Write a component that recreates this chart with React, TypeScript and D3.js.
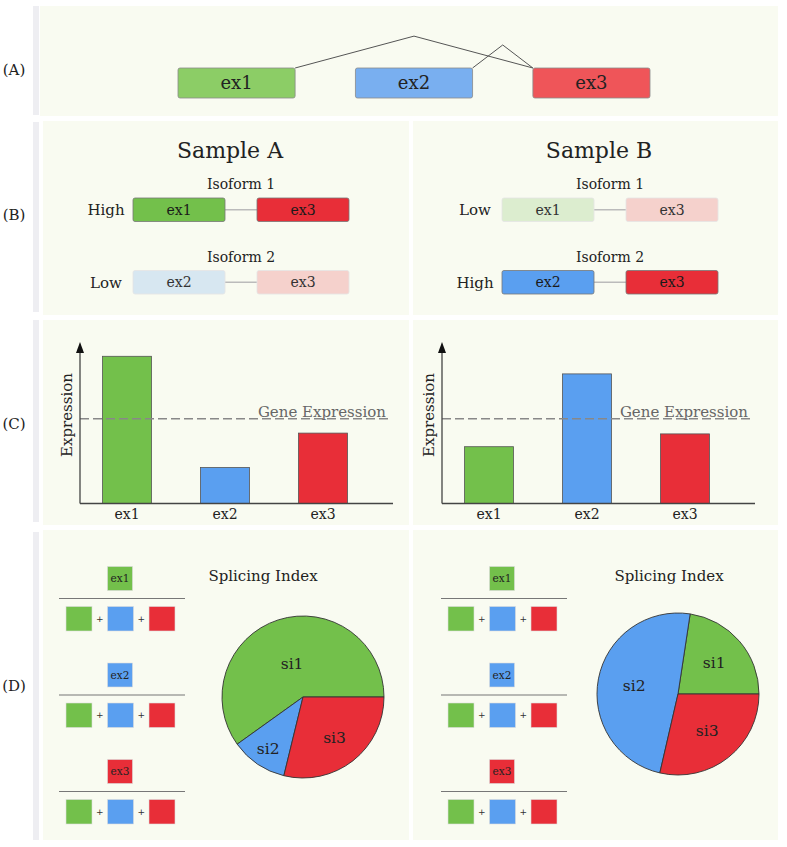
import React from 'react';
import * as d3 from 'd3';

const EXONS = ['ex1', 'ex2', 'ex3'];
const EXON_COLORS = ['#73c04b', '#5a9ff0', '#e82e38'];
const EXON_COLORS_A = ['#8ccd66', '#79aff0', '#ef5559'];
const EXON_FADED = ['#dcedcf', '#d7e7f1', '#f5d1cc'];
const JUNCTIONS = [['ex1', 'ex3'], ['ex2', 'ex3']];
const SAMPLES = ['Sample A', 'Sample B'];
const ISOFORM_NAMES = ['Isoform 1', 'Isoform 2'];
const ISOFORM_EXONS = [['ex1', 'ex3'], ['ex2', 'ex3']];
const ISOFORM_LEVELS_A = ['High', 'Low'];
const ISOFORM_LEVELS_B = ['Low', 'High'];
const EXPR_A = [9.2, 2.25, 4.4];
const EXPR_B = [3.55, 8.1, 4.35];
const GENE_EXPR = [5.3, 5.3];
const SI_LABELS = ['si1', 'si2', 'si3'];
const SI_A = [0.599, 0.113, 0.288];
const SI_B = [0.226, 0.488, 0.286];
const PANEL_LABELS = ['(A)', '(B)', '(C)', '(D)'];

const FONT = '"DejaVu Serif", serif';
const BG = '#f9fbf1';
const BAR = '#eeeef2';

const colorOf = (e: string) => EXON_COLORS[EXONS.indexOf(e)];

function PanelA() {
  const x = d3.scaleBand<string>().domain(EXONS).range([178, 650]).paddingInner(0.34).paddingOuter(0);
  const top = 68, h = 30;
  return (
    <g>
      {JUNCTIONS.map(([a, b], i) => {
        const x0 = (x(a) as number) + x.bandwidth();
        const x1 = x(b) as number;
        const mid = (x0 + x1) / 2;
        const peak = top - (20 + 0.05 * (x1 - x0));
        return <polyline key={i} points={`${x0},${top} ${mid},${peak} ${x1},${top}`} fill="none" stroke="#555" strokeWidth={1} />;
      })}
      {EXONS.map((e, i) => (
        <g key={e}>
          <rect x={x(e)} y={top} width={x.bandwidth()} height={h} rx={2} fill={EXON_COLORS_A[i]} stroke="#8a8a8a" strokeWidth={0.8} />
          <text x={(x(e) as number) + x.bandwidth() / 2} y={top + h / 2} dy="0.35em" textAnchor="middle" fontSize={18} fontFamily={FONT} fill="#222">{e}</text>
        </g>
      ))}
    </g>
  );
}

function PanelB({ s }: { s: number }) {
  const boxLeft = [133, 502][s];
  const rowTop = [198, 270.5];
  const levels = s === 0 ? ISOFORM_LEVELS_A : ISOFORM_LEVELS_B;
  const bw = 92, gap = 32, bh = 23.5;
  const center = boxLeft + bw + gap / 2;
  return (
    <g>
      <text x={center - 11} y={158} textAnchor="middle" fontSize={22} fontFamily={FONT} fill="#222">{SAMPLES[s]}</text>
      {ISOFORM_NAMES.map((name, r) => {
        const high = levels[r] === 'High';
        const y = rowTop[r];
        return (
          <g key={name}>
            <text x={center} y={y - 9} textAnchor="middle" fontSize={14} fontFamily={FONT} fill="#222">{name}</text>
            <text x={boxLeft - 27} y={y + bh / 2} dy="0.35em" textAnchor="middle" fontSize={15} fontFamily={FONT} fill="#222">{levels[r]}</text>
            <line x1={boxLeft + bw} x2={boxLeft + bw + gap} y1={y + bh / 2} y2={y + bh / 2} stroke="#bbb" strokeWidth={1.5} />
            {ISOFORM_EXONS[r].map((e, k) => {
              const idx = EXONS.indexOf(e);
              const bx = boxLeft + k * (bw + gap);
              return (
                <g key={e}>
                  <rect x={bx} y={y} width={bw} height={bh} rx={2} fill={high ? EXON_COLORS[idx] : EXON_FADED[idx]} stroke={high ? '#777' : '#e4e4e4'} strokeWidth={0.8} />
                  <text x={bx + bw / 2} y={y + bh / 2} dy="0.35em" textAnchor="middle" fontSize={14} fontFamily={FONT} fill={high ? '#1a1a1a' : '#333'}>{e}</text>
                </g>
              );
            })}
          </g>
        );
      })}
    </g>
  );
}

function PanelC({ s }: { s: number }) {
  const ax = [80, 442][s];
  const base = 503.5, topY = 342;
  const vals = s === 0 ? EXPR_A : EXPR_B;
  const x = d3.scaleBand<string>().domain(EXONS).range([ax - 2, ax + 292]).paddingInner(0.5).paddingOuter(0.25);
  const y = d3.scaleLinear().domain([0, 10]).range([base, base - 160]);
  const gy = y(GENE_EXPR[s]);
  return (
    <g>
      {EXONS.map((e, i) => (
        <rect key={e} x={x(e)} y={y(vals[i])} width={x.bandwidth()} height={base - y(vals[i])} fill={EXON_COLORS[i]} stroke="#555" strokeWidth={0.8} />
      ))}
      <line x1={ax} x2={ax + 310} y1={gy} y2={gy} stroke="#888" strokeWidth={1.5} strokeDasharray="9,4" />
      <text x={ax + 306} y={gy - 1.5} textAnchor="end" fontSize={15} fontFamily={FONT} fill="#666">Gene Expression</text>
      <line x1={ax} x2={ax} y1={base} y2={topY + 8} stroke="#444" strokeWidth={1.3} />
      <polygon points={`${ax},${topY} ${ax - 4},${topY + 11} ${ax + 4},${topY + 11}`} fill="#111" />
      <line x1={ax} x2={ax + 313} y1={base} y2={base} stroke="#444" strokeWidth={1.3} />
      {EXONS.map((e) => (
        <text key={e} x={(x(e) as number) + x.bandwidth() / 2} y={base + 15} textAnchor="middle" fontSize={14} fontFamily={FONT} fill="#222">{e}</text>
      ))}
      <text transform={`translate(${ax - 13.5},${415}) rotate(-90)`} textAnchor="middle" dy="0.35em" fontSize={15} fontFamily={FONT} fill="#222">Expression</text>
    </g>
  );
}

function Fraction({ lx, top, num }: { lx: number; top: number; num: string }) {
  const gx = lx + 61;
  const sz = 25;
  const step = 41.5;
  return (
    <g>
      <rect x={gx - sz / 2} y={top} width={sz} height={24} fill={colorOf(num)} stroke="#ddd" strokeWidth={0.6} />
      <text x={gx} y={top + 12} dy="0.35em" textAnchor="middle" fontSize={10.5} fontFamily={FONT} fill="#222">{num}</text>
      <line x1={lx} x2={lx + 126} y1={top + 32} y2={top + 32} stroke="#777" strokeWidth={1.2} />
      {EXONS.map((e, k) => (
        <rect key={e} x={gx + (k - 1) * step - sz / 2} y={top + 40} width={sz + 1} height={24.5} fill={EXON_COLORS[k]} stroke="#ddd" strokeWidth={0.6} />
      ))}
      {[0, 1].map((k) => (
        <text key={k} x={gx + (k - 0.5) * step + 0.5} y={top + 52} dy="0.35em" textAnchor="middle" fontSize={9} fontFamily="DejaVu Sans, sans-serif" fill="#333">+</text>
      ))}
    </g>
  );
}

function PanelD({ s }: { s: number }) {
  const lx = [59, 441][s];
  const tx = [263, 669][s];
  const c = [[303, 697], [678, 694]][s];
  const r = 81;
  const vals = s === 0 ? SI_A : SI_B;
  const labelR = s === 0 ? [0.44, 0.77, 0.63] : [0.59, 0.55, 0.58];
  const pie = d3.pie<number>().sort(null).startAngle(Math.PI / 2).endAngle(Math.PI / 2 - 2 * Math.PI);
  const arcs = pie(vals);
  const arc = d3.arc<d3.PieArcDatum<number>>().innerRadius(0).outerRadius(r);
  return (
    <g>
      {EXONS.map((e, i) => (
        <Fraction key={e} lx={lx} top={566.5 + i * 96.5} num={e} />
      ))}
      <text x={tx} y={581} textAnchor="middle" fontSize={15} fontFamily={FONT} fill="#222">Splicing Index</text>
      <g transform={`translate(${c[0]},${c[1]})`}>
        {arcs.map((a, i) => (
          <path key={i} d={arc(a) as string} fill={EXON_COLORS[i]} stroke="#333" strokeWidth={0.9} />
        ))}
        {arcs.map((a, i) => {
          const lr = r * labelR[i];
          const p = d3.arc<d3.PieArcDatum<number>>().innerRadius(lr).outerRadius(lr).centroid(a);
          return (
            <text key={i} x={p[0]} y={p[1]} dy="0.35em" textAnchor="middle" fontSize={15.5} fontFamily={FONT} fill="#222">{SI_LABELS[i]}</text>
          );
        })}
      </g>
    </g>
  );
}

export default function App() {
  const bars = [[6, 115], [122, 312], [320, 522], [532, 840]];
  const labelY = [70, 215, 424, 686];
  const rows = [[121, 315], [320, 525], [530, 840]];
  return (
    <svg width={787} height={847} style={{ position: 'absolute', left: 0, top: 0, background: '#fff' }}>
      <rect x={0} y={0} width={787} height={847} fill="#fff" />
      {bars.map((b, i) => (
        <rect key={i} x={33} y={b[0]} width={6} height={b[1] - b[0]} fill={BAR} />
      ))}
      {PANEL_LABELS.map((l, i) => (
        <text key={l} x={14} y={labelY[i]} dy="0.35em" textAnchor="middle" fontSize={15} fontFamily={FONT} fill="#222">{l}</text>
      ))}
      <rect x={40} y={6} width={738} height={110} fill={BG} />
      {rows.map((rw, i) => (
        <g key={i}>
          <rect x={43} y={rw[0]} width={366} height={rw[1] - rw[0]} fill={BG} />
          <rect x={413} y={rw[0]} width={365} height={rw[1] - rw[0]} fill={BG} />
        </g>
      ))}
      <PanelA />
      {[0, 1].map((s) => (
        <g key={s}>
          <PanelB s={s} />
          <PanelC s={s} />
          <PanelD s={s} />
        </g>
      ))}
    </svg>
  );
}
